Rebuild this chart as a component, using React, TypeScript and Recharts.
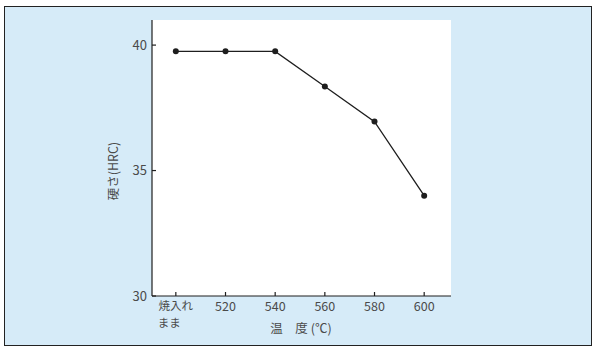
import { LineChart, Line, XAxis, YAxis, CartesianGrid, Label } from "recharts";

const categories = ["焼入れ\nまま", "520", "540", "560", "580", "600"];
const hardness = [39.75, 39.75, 39.75, 38.35, 36.95, 34.0];
const yTicks = [30, 35, 40];

const data = categories.map((c, i) => ({ idx: i, label: c, hrc: hardness[i] }));

const ink = "#1e1e1e";
const textColor = "#4a4a4a";
const font = "'Noto Sans CJK JP', 'Noto Sans', sans-serif";

function XTick(props: any) {
  const { x, y, payload } = props;
  const lines = String(categories[payload.value]).split("\n");
  if (lines.length > 1) {
    // first line centered, second aligned to first line's left edge
    const half = lines[0].length * 6;
    return (
      <g>
        <text x={x} y={y + 16} textAnchor="middle" fill={textColor} fontSize={11.5} fontFamily={font}>
          {lines[0]}
        </text>
        <text x={x - half} y={y + 32.5} textAnchor="start" fill={textColor} fontSize={11.5} fontFamily={font}>
          {lines[1]}
        </text>
      </g>
    );
  }
  return (
    <text x={x} y={y + 17} textAnchor="middle" fill={textColor} fontSize={12.5} fontFamily={font}>
      {lines[0]}
    </text>
  );
}

export default function App() {
  return (
    <div style={{ position: "absolute", left: 0, top: 0, width: 598, height: 355, background: "#fff" }}>
      <div
        style={{
          position: "absolute",
          left: 4,
          top: 6,
          width: 588,
          height: 340,
          boxSizing: "border-box",
          border: "1.5px solid #222",
          background: "#d6ebf8",
        }}
      />
      <div style={{ position: "absolute", left: 0, top: 0 }}>
        <LineChart width={598} height={355} data={data} margin={{ top: 20, right: 147, bottom: 29, left: 112 }}>
          <CartesianGrid fill="#ffffff" horizontal={false} vertical={false} />
          <XAxis
            dataKey="idx"
            type="number"
            domain={[-0.48, 5.54]}
            ticks={[0, 1, 2, 3, 4, 5]}
            allowDataOverflow
            height={30}
            stroke={ink}
            strokeWidth={1.2}
            tickSize={-4}
            tick={<XTick />}
          >
            <Label
              content={() => (
                <text x={301} y={333} textAnchor="middle" fill={textColor} fontSize={12.5} fontFamily={font}>
                  温　度 (℃)
                </text>
              )}
            />
          </XAxis>
          <XAxis
            xAxisId="top"
            orientation="top"
            dataKey="idx"
            type="number"
            domain={[-0.48, 5.54]}
            height={0}
            tick={false}
            tickLine={false}
            stroke={ink}
            strokeWidth={1.2}
          />
          <YAxis
            type="number"
            domain={[30, 41]}
            ticks={yTicks}
            allowDataOverflow
            width={40}
            stroke={ink}
            strokeWidth={1.2}
            tickSize={-4}
            tickMargin={9}
            tick={{ fill: textColor, fontSize: 13, fontFamily: font }}
          >
            <Label
              content={() => (
                <text
                  x={118}
                  y={171}
                  textAnchor="middle"
                  fill={textColor}
                  fontSize={12.5}
                  fontFamily={font}
                  transform="rotate(-90, 118, 171)"
                >
                  硬さ(HRC)
                </text>
              )}
            />
          </YAxis>
          <YAxis
            yAxisId="right"
            orientation="right"
            domain={[30, 41]}
            width={0}
            tick={false}
            tickLine={false}
            stroke={ink}
            strokeWidth={1.2}
          />
          <Line
            dataKey="hrc"
            stroke={ink}
            strokeWidth={1.3}
            dot={{ r: 3, fill: ink, stroke: ink, strokeWidth: 0 }}
            isAnimationActive={false}
          />
        </LineChart>
      </div>
    </div>
  );
}
